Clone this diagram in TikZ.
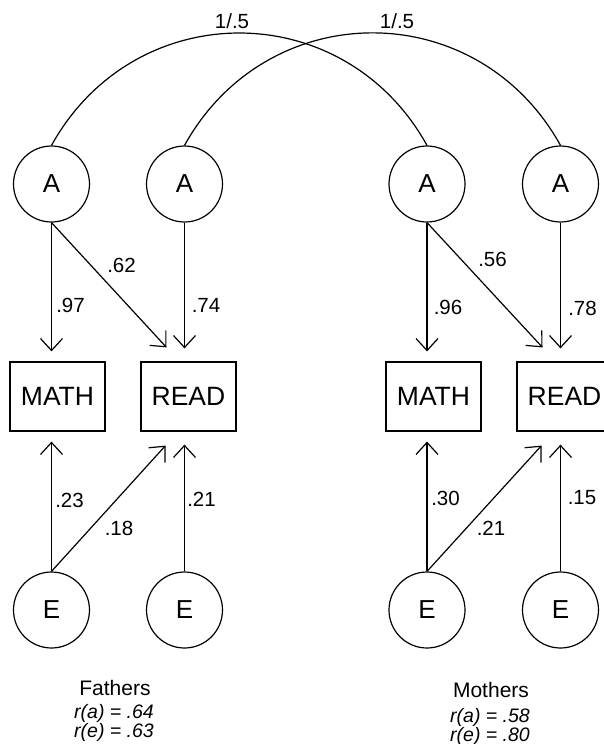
\documentclass[tikz,border=0pt]{standalone}
\usepackage{fontspec}
\setmainfont{Liberation Sans}
\usetikzlibrary{arrows.meta}

\begin{document}
\begin{tikzpicture}[x=1pt,y=1pt]
	\tikzstyle{latent} = [circle, draw, line width=1.2pt, minimum size=76pt, inner sep=0pt, font=\fontsize{26}{30}\selectfont]
	\tikzstyle{observed} = [rectangle, draw, line width=1.2pt, minimum width=95pt, minimum height=69pt, inner sep=0pt, font=\fontsize{26.5}{30}\selectfont]
	\tikzstyle{path_label} = [inner sep=0pt, font=\fontsize{20.5}{24}\selectfont]
	\tikzstyle{group_label} = [inner sep=0pt, font=\fontsize{21}{24}\selectfont]
	\tikzstyle{fit_label} = [inner sep=0pt, font=\fontsize{19.5}{22}\selectfont\itshape]
	\tikzstyle{edge} = [line width=1.2pt, -{Straight Barb[length=12pt, width=22pt, line width=1.2pt]}]
	\tikzstyle{corr} = [line width=1.2pt]
	\def\layerA{-184}
	\def\layerbox{-396.5}
	\def\layerE{-610}

	\clip (0,0) rectangle (604,-744);

	%genetic factors
	\foreach \name/\x in {A_f1/51.5, A_f2/184.5, A_m1/427, A_m2/560.5}
		\node[latent] (\name) at (\x, \layerA) {A};

	%observed scores
	\foreach \name/\x/\txt in {math_f/57.5/MATH, read_f/188.5/READ, math_m/433.5/MATH, read_m/564.5/READ}
		\node[observed] (\name) at (\x, \layerbox) {\txt};

	%environment
	\foreach \name/\x in {E_f1/51.5, E_f2/184.5, E_m1/427, E_m2/560.5}
		\node[latent] (\name) at (\x, \layerE) {E};

	\draw[corr] (A_f1.north) to [out=61, in=119, looseness=1.17] (A_m1.north);
	\draw[corr] (A_f2.north) to [out=61, in=119, looseness=1.17] (A_m2.north);

	\foreach \from/\to in {A_f1/math_f, A_m1/math_m}
		\draw[edge, shorten >=10pt] (\from.south) -- (\from |- \to.north);
	\foreach \from/\to in {A_f2/read_f, A_m2/read_m}
		\draw[edge, shorten >=13pt] (\from.south) -- (\from |- \to.north);
	\foreach \from/\to in {A_f1/read_f, A_m1/read_m}
		\draw[edge] (\from.south) -- ([xshift=-22pt, yshift=14pt]\to.north);

	\foreach \from/\to in {E_f1/math_f, E_m1/math_m}
		\draw[edge, shorten >=10pt] (\from.north) -- (\from |- \to.south);
	\foreach \from/\to in {E_f2/read_f, E_m2/read_m}
		\draw[edge, shorten >=13pt] (\from.north) -- (\from |- \to.south);
	\foreach \from/\to in {E_f1/read_f, E_m1/read_m}
		\draw[edge] (\from.north) -- ([xshift=-23pt, yshift=-14pt]\to.south);

	%path coefficients
	\foreach \name/\txt/\x/\y in {c_af1/.97/70.5/-305, c_af12/.62/121.5/-265, c_af2/.74/206/-305,
		c_ef1/.23/69.5/-500, c_ef12/.18/119/-528, c_ef2/.21/201.5/-499,
		c_am1/.96/448/-307, c_am12/.56/492.5/-259, c_am2/.78/582.5/-308,
		c_em1/.30/445.5/-498, c_em12/.21/491/-528, c_em2/.15/582/-498,
		c_r1/{1/.5}/232/-21, c_r2/{1/.5}/397/-21}
		\node[path_label] (\name) at (\x, \y) {\txt};

	\node[group_label] (fathers) at (115, -688) {Fathers};
	\node[fit_label] (ra_f) at (114, -713) {r(a) = .64};
	\node[fit_label] (re_f) at (114, -732) {r(e) = .63};
	\node[group_label] (mothers) at (491, -690) {Mothers};
	\node[fit_label] (ra_m) at (490, -717) {r(a) = .58};
	\node[fit_label] (re_m) at (490, -736) {r(e) = .80};
\end{tikzpicture}
\end{document}
